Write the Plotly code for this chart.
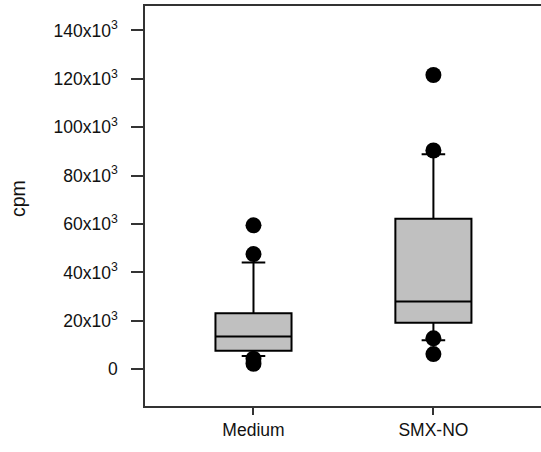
import plotly.graph_objects as go

categories = ["Medium", "SMX-NO"]
q1 = [7700, 19200]
median = [13500, 28000]
q3 = [23200, 62200]
lower_whisker = [5500, 12000]
upper_whisker = [44100, 88900]

outlier_x = ["Medium", "Medium", "Medium", "Medium", "SMX-NO", "SMX-NO", "SMX-NO", "SMX-NO"]
outlier_y = [59500, 47600, 4400, 2300, 121600, 90400, 12800, 6300]

tick_vals = [0, 20000, 40000, 60000, 80000, 100000, 120000, 140000]
tick_text = ["0", "20x10<sup>3</sup>", "40x10<sup>3</sup>", "60x10<sup>3</sup>", "80x10<sup>3</sup>",
             "100x10<sup>3</sup>", "120x10<sup>3</sup>", "140x10<sup>3</sup>"]

FONT = "Liberation Sans, Arial, sans-serif"

fig = go.Figure()
fig.add_trace(go.Box(
    x=categories, q1=q1, median=median, q3=q3,
    lowerfence=lower_whisker, upperfence=upper_whisker,
    boxpoints=False, fillcolor="#c0c0c0",
    line=dict(color="black", width=2), whiskerwidth=0.31,
    showlegend=False, hoverinfo="skip",
))
fig.add_trace(go.Scatter(
    x=outlier_x, y=outlier_y, mode="markers",
    marker=dict(color="black", size=16, line=dict(width=0)),
    showlegend=False, hoverinfo="skip",
))

fig.update_layout(
    width=541, height=452,
    margin=dict(l=145, r=0, t=6, b=46),
    paper_bgcolor="white", plot_bgcolor="white",
    boxgap=0.396,
    font=dict(family=FONT, size=17.5, color="#111111"),
    xaxis=dict(
        type="category", range=[-0.603, 1.598],
        showline=True, mirror=True, linecolor="#333333", linewidth=1.5,
        ticks="outside", ticklen=7, tickcolor="#333333", tickwidth=1.5,
        showgrid=False, zeroline=False,
        tickfont=dict(family=FONT, size=17.5, color="#111111"),
    ),
    yaxis=dict(
        range=[-15170, 150120],
        tickvals=tick_vals, ticktext=tick_text,
        showline=True, mirror=False, linecolor="#333333", linewidth=1.5,
        ticks="outside", ticklen=12, tickcolor="#333333", tickwidth=1.5,
        ticklabelstandoff=10,
        showgrid=False, zeroline=False,
        tickfont=dict(family=FONT, size=17.5, color="#111111"),
    ),
    annotations=[dict(
        text="cpm", textangle=-90, showarrow=False,
        xref="paper", yref="paper",
        x=(18 - 145) / 396, y=(406 - 199) / 400,
        xanchor="center", yanchor="middle",
        font=dict(family=FONT, size=19.5, color="#111111"),
    )],
)

fig.write_html("out.html", config={"displayModeBar": False},
               post_script="document.body.style.margin='0';")
